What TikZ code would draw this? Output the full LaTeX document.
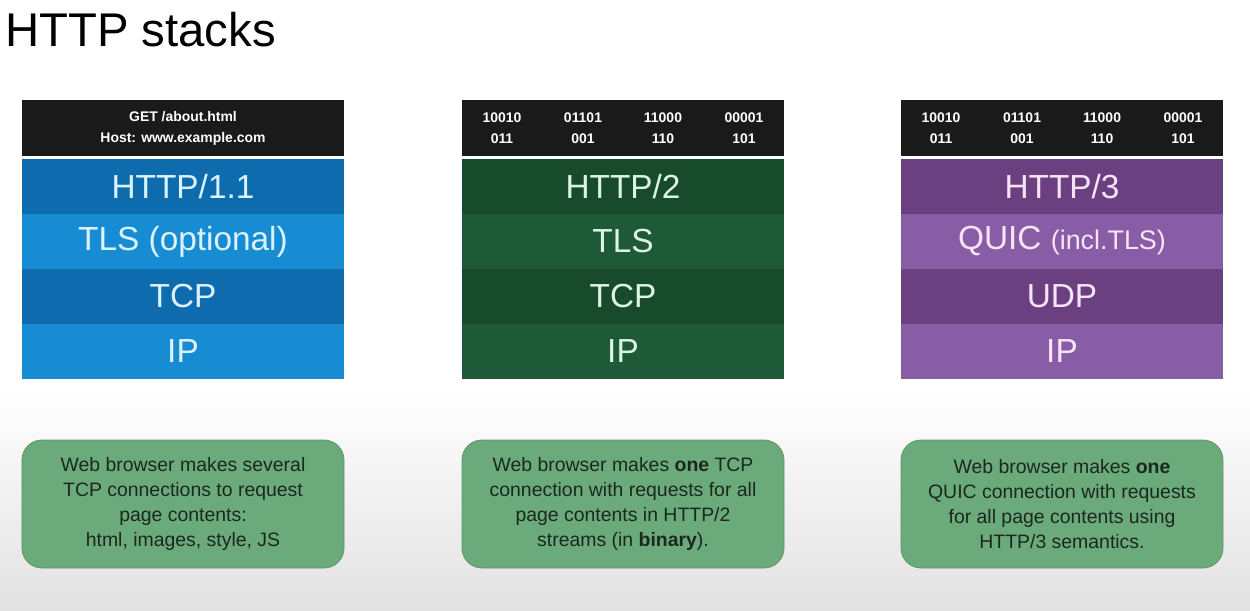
\documentclass[tikz,border=0pt]{standalone}
\usepackage{fontspec}
\setmainfont{Liberation Sans}
\definecolor{hdrblack}{RGB}{26,26,26}
\definecolor{bluedark}{RGB}{14,108,174}
\definecolor{bluelight}{RGB}{24,140,210}
\definecolor{bluetext}{RGB}{220,242,255}
\definecolor{greendark}{RGB}{24,74,44}
\definecolor{greenlight}{RGB}{30,90,55}
\definecolor{greentext}{RGB}{220,245,226}
\definecolor{purpledark}{RGB}{106,64,128}
\definecolor{purplelight}{RGB}{137,92,166}
\definecolor{purpletext}{RGB}{248,228,248}
\definecolor{notegreen}{RGB}{107,170,122}
\definecolor{noteedge}{RGB}{92,150,106}
\definecolor{notetext}{RGB}{26,40,30}
\definecolor{bggray}{RGB}{226,226,226}
\tikzset{
  layer/.style={minimum width=322bp, minimum height=55bp, inner sep=0pt, outer sep=0pt,
    font=\fontsize{33.5}{38}\selectfont},
  hdr/.style={fill=hdrblack, minimum width=322bp, minimum height=56bp, inner sep=0pt, outer sep=0pt},
  hdrtxt/.style={text=white, font=\bfseries\fontsize{14}{21}\selectfont, align=center, inner sep=0pt},
  note/.style={rounded corners=20bp, fill=notegreen, draw=noteedge, line width=0.8bp,
    minimum width=322bp, minimum height=128bp, align=center, inner sep=0pt,
    font=\fontsize{19.5}{25}\selectfont, text=notetext},
}
\begin{document}
\begin{tikzpicture}[x=1bp,y=-1bp]
\useasboundingbox (0,0) rectangle (1250,611);
\fill[white] (0,0) rectangle (1250,611);
\shade[top color=white, bottom color=bggray] (0,390) rectangle (1250,611);

\node[anchor=base west, inner sep=0pt, font=\fontsize{47.5}{52}\selectfont] (title) at (5,47) {HTTP stacks};

% Stack 1: HTTP/1.1
\node[hdr] (h1) at (183,128) {};
\node[hdrtxt] (h1t) at (183,128) {GET /about.html\\Host: www.example.com};
\node[layer, fill=bluedark, text=bluetext] (a1) at (183,186.5) {HTTP/1.1};
\node[layer, fill=bluelight, text=bluetext] (a2) at (183,241.5) {TLS (optional)};
\node[layer, fill=bluedark, text=bluetext] (a3) at (183,296.5) {TCP};
\node[layer, fill=bluelight, text=bluetext] (a4) at (183,351.5) {IP};

% Stack 2: HTTP/2
\node[hdr] (h2) at (623,128) {};
\node[hdrtxt] (h2a) at (502,128) {10010\\011};
\node[hdrtxt] (h2b) at (583,128) {01101\\001};
\node[hdrtxt] (h2c) at (663,128) {11000\\110};
\node[hdrtxt] (h2d) at (744,128) {00001\\101};
\node[layer, fill=greendark, text=greentext] (b1) at (623,186.5) {HTTP/2};
\node[layer, fill=greenlight, text=greentext] (b2) at (623,241.5) {TLS};
\node[layer, fill=greendark, text=greentext] (b3) at (623,296.5) {TCP};
\node[layer, fill=greenlight, text=greentext] (b4) at (623,351.5) {IP};

% Stack 3: HTTP/3
\node[hdr] (h3) at (1062,128) {};
\node[hdrtxt] (h3a) at (941,128) {10010\\011};
\node[hdrtxt] (h3b) at (1022,128) {01101\\001};
\node[hdrtxt] (h3c) at (1102,128) {11000\\110};
\node[hdrtxt] (h3d) at (1183,128) {00001\\101};
\node[layer, fill=purpledark, text=purpletext] (c1) at (1062,186.5) {HTTP/3};
\node[layer, fill=purplelight, text=purpletext] (c2) at (1062,241.5) {QUIC {\fontsize{27}{30}\selectfont(incl.TLS)}};
\node[layer, fill=purpledark, text=purpletext] (c3) at (1062,296.5) {UDP};
\node[layer, fill=purplelight, text=purpletext] (c4) at (1062,351.5) {IP};

% Notes
\node[note] (n1) at (183,504) {Web browser makes several\\TCP connections to request\\page contents:\\html, images, style, JS};
\node[note] (n2) at (623,504) {Web browser makes \textbf{one} TCP\\connection with requests for all\\page contents in HTTP/2\\streams (in \textbf{binary}).};
\node[note] (n3) at (1062,504) {Web browser makes \textbf{one}\\QUIC connection with requests\\for all page contents using\\HTTP/3 semantics.};
\end{tikzpicture}
\end{document}
